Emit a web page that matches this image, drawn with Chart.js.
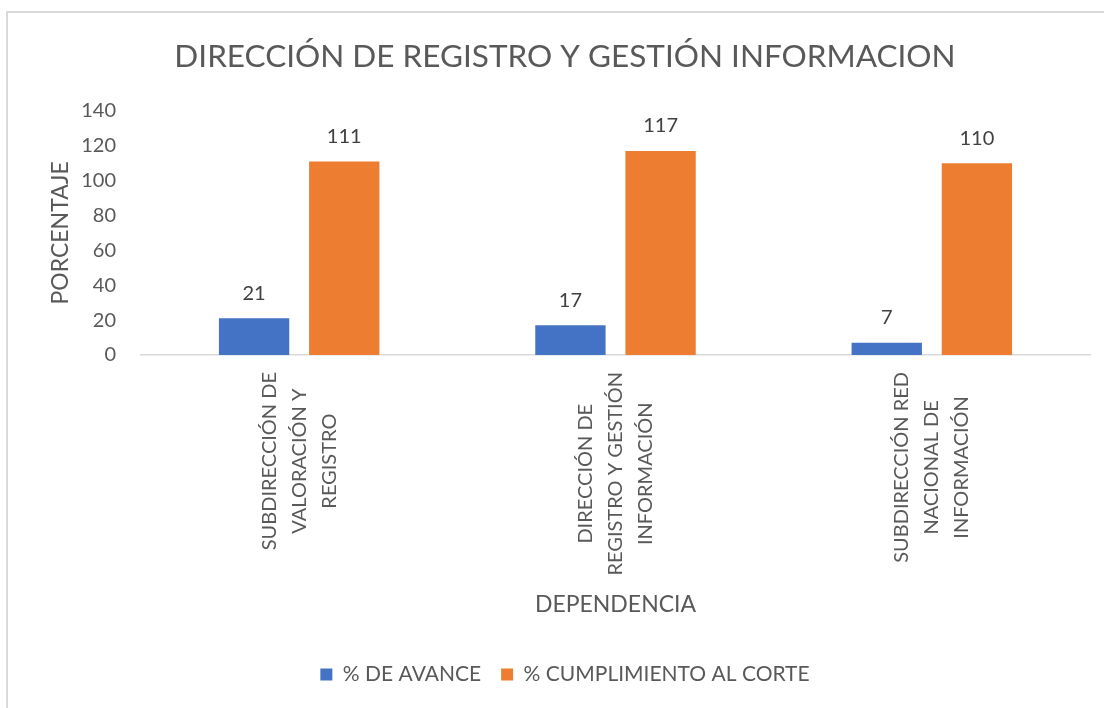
<!DOCTYPE html>
<html><head><meta charset="utf-8">
<script src="https://cdn.jsdelivr.net/npm/chart.js@4/dist/chart.umd.min.js"></script>
<style>
html,body{margin:0;padding:0;background:#fff;overflow:hidden;width:1104px;height:708px}
#frame{position:absolute;left:6px;top:11px;width:1200px;height:800px;border:2px solid #d9d9d9;box-sizing:border-box}
#wrap{position:absolute;left:0;top:0;width:1104px;height:708px}
</style></head><body>
<div id="frame"></div>
<div id="wrap"><canvas id="c" width="1104" height="708"></canvas></div>
<script>
const categories = [
  ["SUBDIRECCIÓN DE", "VALORACIÓN Y", "REGISTRO"],
  ["DIRECCIÓN DE", "REGISTRO Y GESTIÓN", "INFORMACIÓN"],
  ["SUBDIRECCIÓN RED", "NACIONAL DE", "INFORMACIÓN"]
];
const seriesNames = ["% DE AVANCE", "% CUMPLIMIENTO AL CORTE"];
const avance = [21, 17, 7];
const cumplimiento = [111, 117, 110];
const yMin = 0, yMax = 140, yStep = 20;
const chartTitle = "DIRECCIÓN DE REGISTRO Y GESTIÓN INFORMACION";
const xTitle = "DEPENDENCIA";
const yTitle = "PORCENTAJE";

const FONT = 'Lato, "Open Sans", sans-serif';
const TEXT = '#595959';
Chart.defaults.font.family = FONT;
Chart.defaults.color = TEXT;

const dataLabels = {
  id: 'dataLabels',
  afterDatasetsDraw(chart) {
    const ctx = chart.ctx;
    ctx.save();
    ctx.font = '20px ' + FONT;
    ctx.fillStyle = '#404040';
    ctx.textAlign = 'center';
    ctx.textBaseline = 'middle';
    chart.data.datasets.forEach((ds, di) => {
      chart.getDatasetMeta(di).data.forEach((bar, i) => {
        ctx.fillText(String(ds.data[i]), bar.x, bar.y - 25);
      });
    });
    ctx.restore();
  }
};

const xLabels = {
  id: 'xLabels',
  afterDraw(chart) {
    const ctx = chart.ctx;
    const xs = chart.scales.x;
    ctx.save();
    ctx.font = '20px ' + FONT;
    ctx.fillStyle = TEXT;
    ctx.textAlign = 'center';
    ctx.textBaseline = 'middle';
    categories.forEach((lines, i) => {
      const x = xs.getPixelForTick(i);
      const maxW = Math.max(...lines.map(l => ctx.measureText(l).width));
      const cy = xs.top + 17 + maxW / 2;
      lines.forEach((line, j) => {
        const lx = x + (j - (lines.length - 1) / 2) * 30;
        ctx.save();
        ctx.translate(lx, cy);
        ctx.rotate(-Math.PI / 2);
        ctx.fillText(line, 0, 0);
        ctx.restore();
      });
    });
    ctx.restore();
  }
};

new Chart(document.getElementById('c'), {
  type: 'bar',
  data: {
    labels: categories,
    datasets: [
      { label: seriesNames[0], data: avance, backgroundColor: '#4472C4',
        categoryPercentage: 0.57, barPercentage: 0.78 },
      { label: seriesNames[1], data: cumplimiento, backgroundColor: '#ED7D31',
        categoryPercentage: 0.57, barPercentage: 0.78 }
    ]
  },
  options: {
    responsive: false,
    animation: false,
    layout: { padding: { left: 40, right: 14, top: 0, bottom: 13 } },
    plugins: {
      title: {
        display: true, text: chartTitle, color: TEXT,
        font: { size: 31.5, weight: 'normal' },
        padding: { top: 38, bottom: 35 }
      },
      legend: {
        position: 'bottom',
        labels: { boxWidth: 12, boxHeight: 12, padding: 20, color: TEXT, font: { size: 21 } }
      },
      tooltip: { enabled: false }
    },
    scales: {
      x: {
        grid: { display: false, drawTicks: false },
        border: { display: true, color: '#d9d9d9', width: 1.5 },
        ticks: { display: false },
        title: { display: true, text: xTitle, color: TEXT, font: { size: 23 }, padding: { top: 0, bottom: 26 } },
        afterFit(s) { s.height = 289; }
      },
      y: {
        min: yMin, max: yMax,
        grid: { display: false, drawTicks: false },
        border: { display: false },
        ticks: { stepSize: yStep, padding: 25, color: TEXT, font: { size: 20 } },
        title: { display: true, text: yTitle, color: TEXT, font: { size: 23 }, padding: { top: 7, bottom: 0 } },
        afterFit(s) { s.width = 101; }
      }
    }
  },
  plugins: [dataLabels, xLabels]
});
</script>
</body></html>
